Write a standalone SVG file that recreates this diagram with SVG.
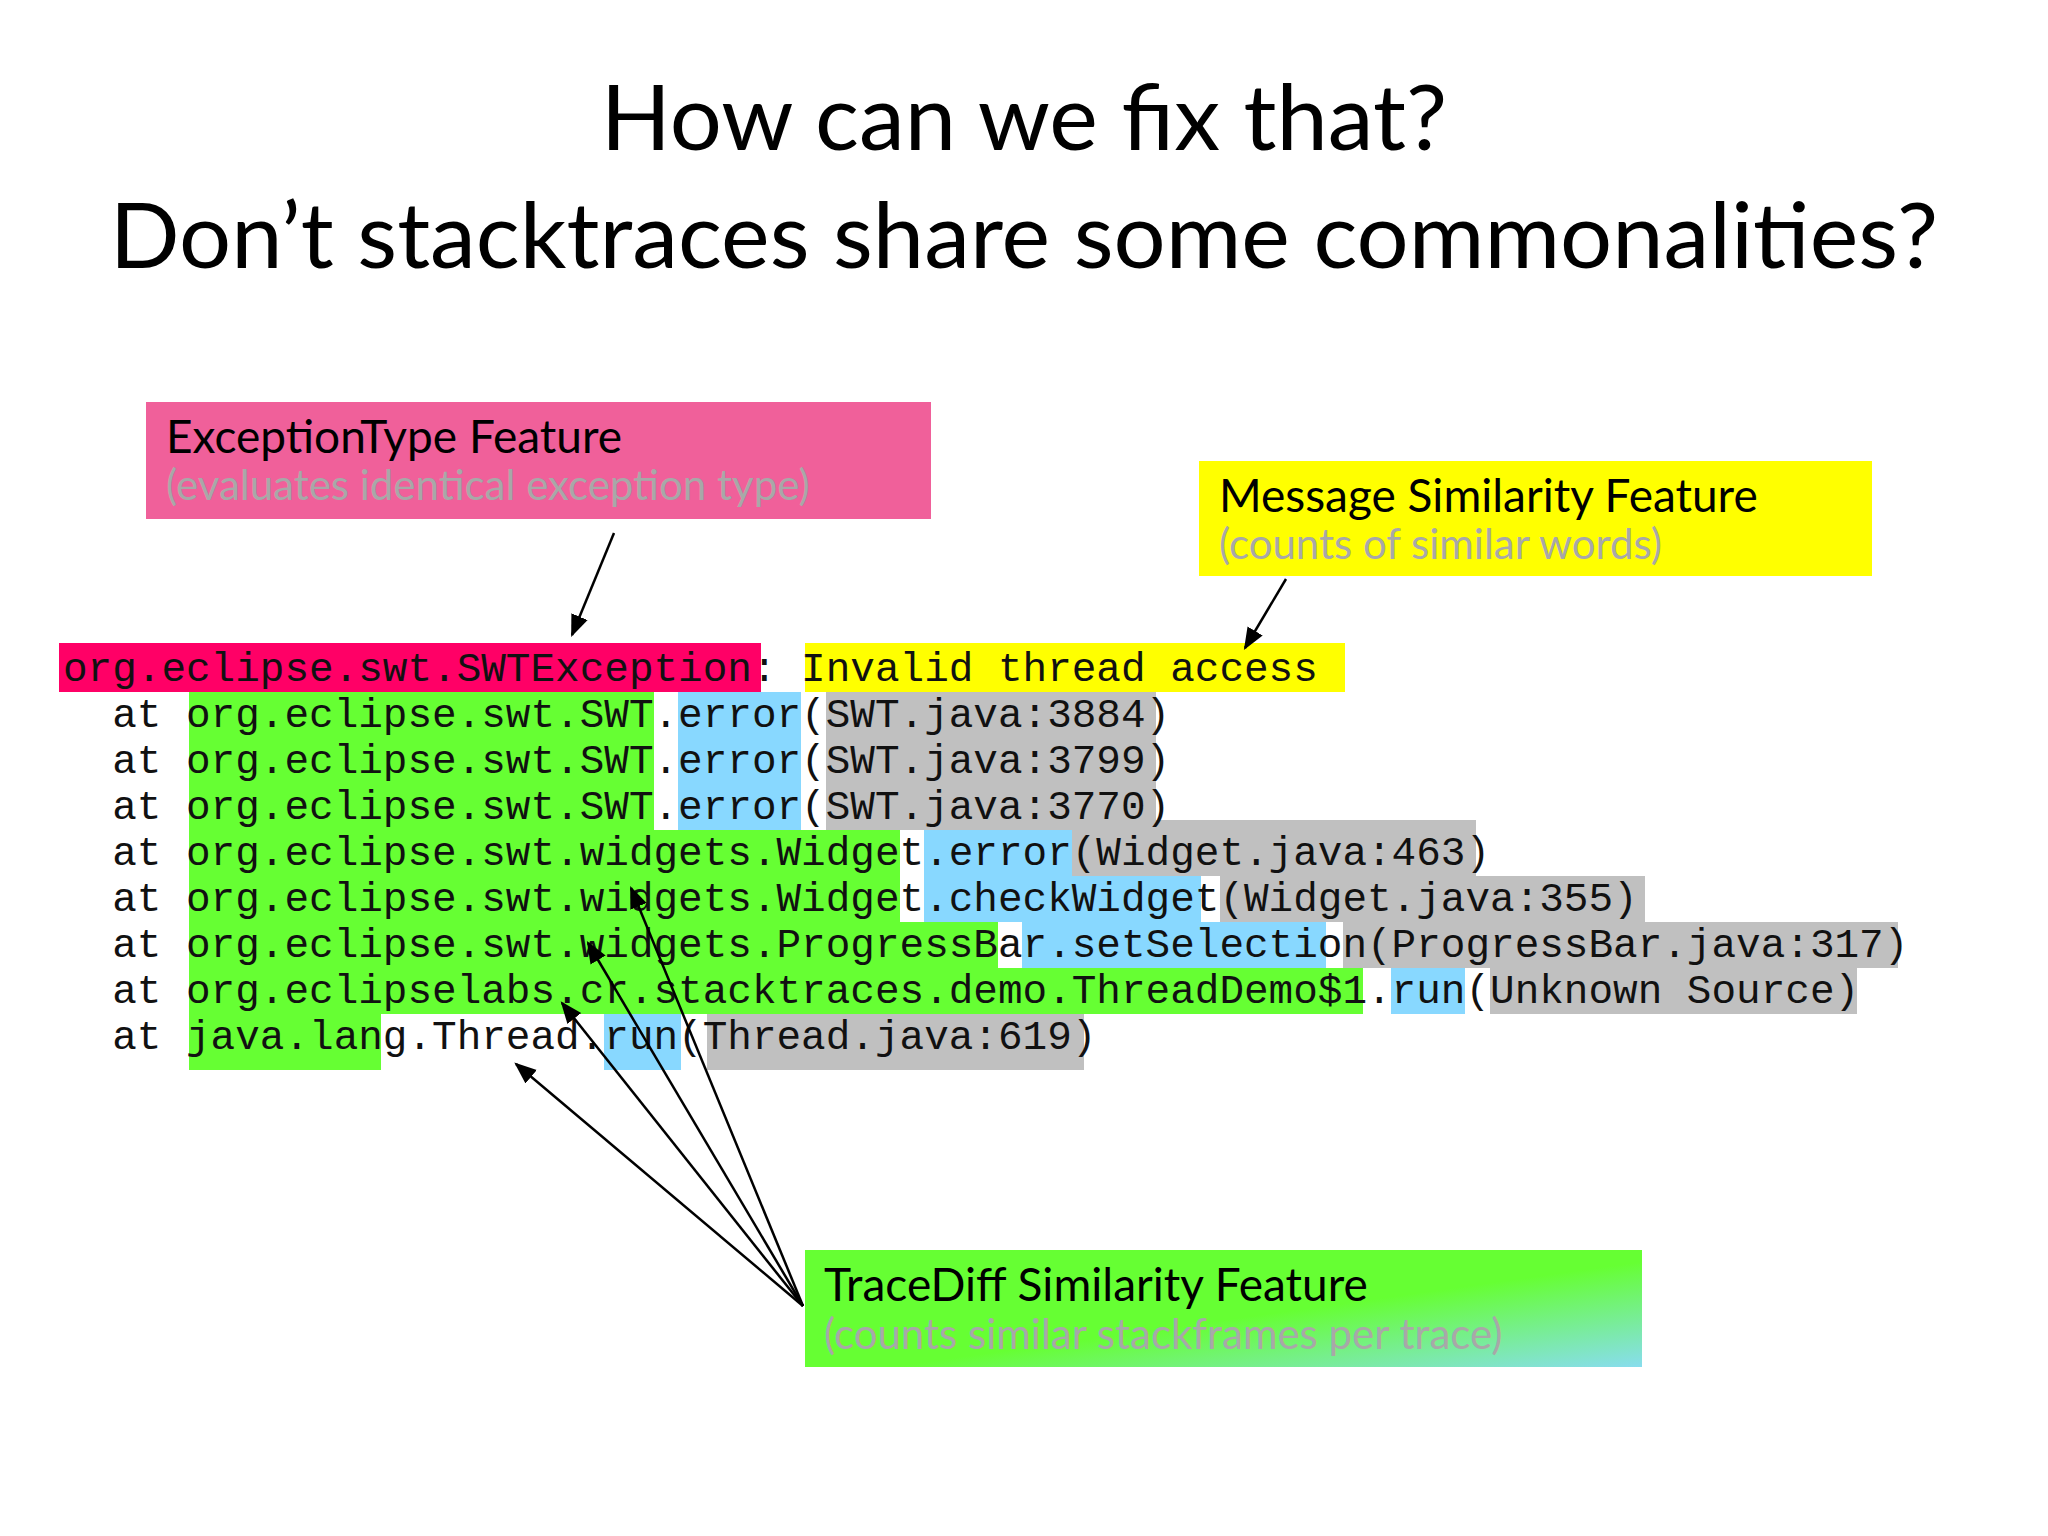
<svg xmlns="http://www.w3.org/2000/svg" width="2048" height="1536" viewBox="0 0 2048 1536">
<style>
.t{font-family:Lato,"Open Sans",sans-serif;fill:#000}
.c{font-family:"Liberation Mono","DejaVu Sans Mono",monospace;font-size:41px;fill:#111}
.h{font-family:Lato,"Open Sans",sans-serif;font-size:46px;fill:#000}
.s{font-family:Lato,"Open Sans",sans-serif;font-size:42px;fill:#a8a8a8}
.g{fill:#66ff33}.b{fill:#88d8ff}.y{fill:#c0c0c0}
.a{stroke:#000;stroke-width:2.5;fill:none;marker-end:url(#ah)}
</style>
<defs>
<marker id="ah" viewBox="0 0 10 10" refX="9" refY="5" markerWidth="9" markerHeight="9" markerUnits="userSpaceOnUse" orient="auto"><path d="M0,0L10,5L0,10z" fill="#000"/></marker>
<marker id="ah2" viewBox="0 0 10 10" refX="9" refY="5" markerWidth="22" markerHeight="22" markerUnits="userSpaceOnUse" orient="auto"><path d="M0,1L10,5L0,9z" fill="#000"/></marker>
<linearGradient id="gr" x1="0" y1="0" x2="1" y2="1"><stop offset="0.55" stop-color="#66ff33"/><stop offset="1" stop-color="#88ddee"/></linearGradient>
</defs>
<rect width="2048" height="1536" fill="#fff"/>
<g id="title">
<text class="t" x="1024" y="150" font-size="92" text-anchor="middle">How can we fix that?</text>
<text class="t" x="1024" y="268" font-size="92" text-anchor="middle">Don’t stacktraces share some commonalities?</text>
</g>
<g id="highlights">
<rect x="59" y="643" width="702" height="49" fill="#ff0066"/>
<rect x="805" y="643" width="540" height="49" fill="#ffff00"/>
<path class="g" d="M189,692H654V830H900V922H998V968H1363V1014H381V1070H189Z"/>
<rect class="b" x="678" y="692" width="123" height="138"/>
<rect class="b" x="924" y="830" width="174" height="46"/>
<rect class="b" x="924" y="876" width="277" height="46"/>
<rect class="b" x="1022" y="922" width="304" height="46"/>
<rect class="b" x="1391" y="968" width="74" height="46"/>
<rect class="b" x="604" y="1014" width="77" height="56"/>
<rect class="y" x="826" y="692" width="330" height="138"/>
<rect class="y" x="1072" y="820" width="404" height="56"/>
<rect class="y" x="1220" y="876" width="425" height="46"/>
<rect class="y" x="1343" y="922" width="555" height="46"/>
<rect class="y" x="1490" y="968" width="367" height="46"/>
<rect class="y" x="707" y="1014" width="377" height="56"/>
</g>
<g id="trace">
<text class="c" x="63" y="681">org.eclipse.swt.SWTException: Invalid thread access</text>
<text class="c" x="63" y="727" xml:space="preserve">  at org.eclipse.swt.SWT.error(SWT.java:3884)</text>
<text class="c" x="63" y="773" xml:space="preserve">  at org.eclipse.swt.SWT.error(SWT.java:3799)</text>
<text class="c" x="63" y="819" xml:space="preserve">  at org.eclipse.swt.SWT.error(SWT.java:3770)</text>
<text class="c" x="63" y="865" xml:space="preserve">  at org.eclipse.swt.widgets.Widget.error(Widget.java:463)</text>
<text class="c" x="63" y="911" xml:space="preserve">  at org.eclipse.swt.widgets.Widget.checkWidget(Widget.java:355)</text>
<text class="c" x="63" y="957" xml:space="preserve">  at org.eclipse.swt.widgets.ProgressBar.setSelection(ProgressBar.java:317)</text>
<text class="c" x="63" y="1003" xml:space="preserve">  at org.eclipselabs.cr.stacktraces.demo.ThreadDemo$1.run(Unknown Source)</text>
<text class="c" x="63" y="1049" xml:space="preserve">  at java.lang.Thread.run(Thread.java:619)</text>
</g>
<g id="exceptionType">
<rect x="146" y="402" width="785" height="117" fill="#f0609a"/>
<text class="h" x="166" y="453">ExceptionType Feature</text>
<text class="s" x="166" y="500">(evaluates identical exception type)</text>
</g>
<g id="messageSimilarity">
<rect x="1199" y="461" width="673" height="115" fill="#ffff00"/>
<text class="h" x="1219" y="512">Message Similarity Feature</text>
<text class="s" x="1219" y="559">(counts of similar words)</text>
</g>
<g id="traceDiff">
<rect x="805" y="1250" width="837" height="117" fill="url(#gr)"/>
<text class="h" x="824" y="1301">TraceDiff Similarity Feature</text>
<text class="s" x="824" y="1349">(counts similar stackframes per trace)</text>
</g>
<g id="connectors" stroke="#000" stroke-width="2.5" fill="none">
<line x1="614" y1="533" x2="572" y2="635" marker-end="url(#ah2)"/>
<line x1="1286" y1="579" x2="1245" y2="648" marker-end="url(#ah2)"/>
<line x1="803" y1="1306" x2="631" y2="888" marker-end="url(#ah2)"/>
<line x1="803" y1="1306" x2="588" y2="943" marker-end="url(#ah2)"/>
<line x1="803" y1="1306" x2="562" y2="1003" marker-end="url(#ah2)"/>
<line x1="803" y1="1306" x2="516" y2="1064" marker-end="url(#ah2)"/>
</g>
</svg>
